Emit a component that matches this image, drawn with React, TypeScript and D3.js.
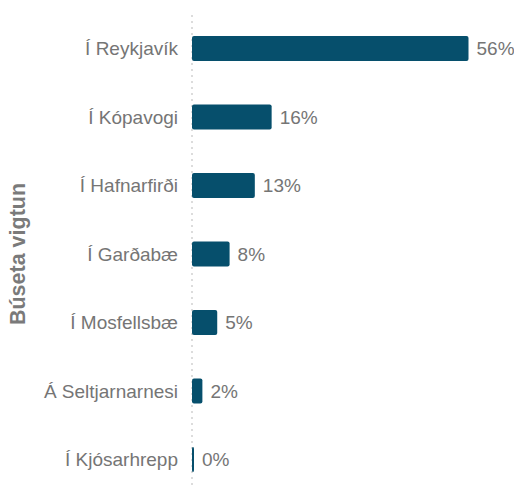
import React, { useEffect, useRef } from 'react';
import * as d3 from 'd3';

const categories = ['Í Reykjavík', 'Í Kópavogi', 'Í Hafnarfirði', 'Í Garðabæ', 'Í Mosfellsbæ', 'Á Seltjarnarnesi', 'Í Kjósarhrepp'];
const values = [55.9, 16.1, 12.7, 7.6, 5.1, 2.1, 0.4];
const valueLabels = ['56%', '16%', '13%', '8%', '5%', '2%', '0%'];

const WIDTH = 514;
const HEIGHT = 488;

export default function App() {
  const svgRef = useRef<SVGSVGElement>(null);

  useEffect(() => {
    if (!svgRef.current) return;
    const svg = d3.select(svgRef.current);
    svg.selectAll('*').remove();

    const left = 192;
    const font = '"Liberation Sans", Arial, sans-serif';

    const x = d3.scaleLinear().domain([0, 56]).range([left, 469]);
    const y = d3.scaleBand<string>().domain(categories).range([14, 494]).paddingInner(0.635).paddingOuter(0.32);

    // dotted baseline
    svg.append('line')
      .attr('x1', left).attr('x2', left)
      .attr('y1', 15).attr('y2', HEIGHT)
      .attr('stroke', '#dcdcdc')
      .attr('stroke-width', 2)
      .attr('stroke-dasharray', '2,4');

    const rows = svg.selectAll('g.row')
      .data(categories)
      .enter()
      .append('g')
      .attr('class', 'row');

    rows.append('rect')
      .attr('x', left)
      .attr('y', d => y(d)!)
      .attr('width', (_, i) => Math.max(2, x(values[i]) - left))
      .attr('height', y.bandwidth())
      .attr('rx', 2)
      .attr('fill', '#064f6c');

    rows.append('text')
      .attr('x', 178)
      .attr('y', d => y(d)! + y.bandwidth() / 2)
      .attr('dy', '0.35em')
      .attr('text-anchor', 'end')
      .attr('font-family', font)
      .attr('font-size', 19)
      .attr('fill', '#757575')
      .text(d => d);

    rows.append('text')
      .attr('x', (_, i) => Math.max(x(values[i]), left + 2) + 8)
      .attr('y', d => y(d)! + y.bandwidth() / 2)
      .attr('dy', '0.35em')
      .attr('font-family', font)
      .attr('font-size', 19)
      .attr('fill', '#757575')
      .text((_, i) => valueLabels[i]);

    // axis title
    svg.append('text')
      .attr('transform', `translate(25, 254) rotate(-90)`)
      .attr('text-anchor', 'middle')
      .attr('font-family', font)
      .attr('font-size', 21.5)
      .attr('font-weight', 'bold')
      .attr('fill', '#7a7a7a')
      .text('Búseta vigtun');
  }, []);

  return (
    <div style={{ position: 'fixed', left: 0, top: 0, width: WIDTH, height: HEIGHT, background: '#fff' }}>
      <svg ref={svgRef} width={WIDTH} height={HEIGHT} style={{ display: 'block' }} />
    </div>
  );
}
